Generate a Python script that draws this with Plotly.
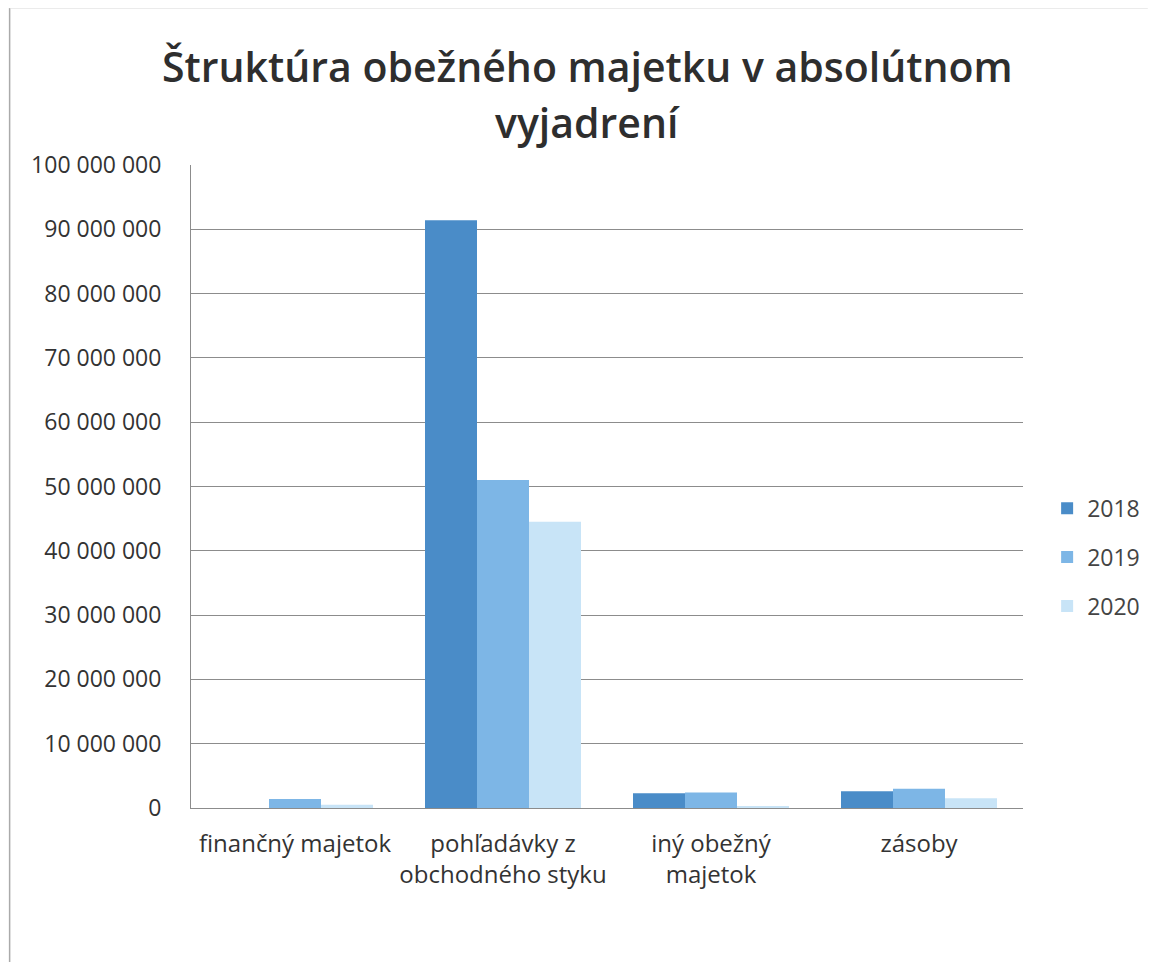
import plotly.graph_objects as go

categories = ["finančný majetok", "pohľadávky z<br>obchodného styku", "iný obežný<br>majetok", "zásoby"]
years = ["2018", "2019", "2020"]
values_2018 = [0, 91400000, 2300000, 2600000]
values_2019 = [1400000, 51000000, 2400000, 3000000]
values_2020 = [500000, 44500000, 300000, 1500000]
colors = ["#4a8cc8", "#7db6e6", "#c8e4f7"]
tick_vals = list(range(0, 100000001, 10000000))
title_lines = ["Štruktúra obežného majetku v absolútnom", "vyjadrení"]

fig = go.Figure()
for name, vals, col in zip(years, [values_2018, values_2019, values_2020], colors):
    fig.add_trace(go.Bar(x=categories, y=vals, name=name, legendgroup=name,
                         marker=dict(color=col, line=dict(width=0))))

title_font = dict(family="Open Sans", size=41, color="#2e2e2e", weight=600)
fig.update_layout(
    width=1157, height=962,
    paper_bgcolor="white", plot_bgcolor="white",
    margin=dict(l=183, r=142, t=157, b=162),
    barmode="group", bargap=0.25, bargroupgap=0,
    separators=", ",
    font=dict(family="Open Sans", size=23, color="#333333"),
    legend=dict(x=1.029, y=0.39, xanchor="left", yanchor="middle", font=dict(size=23, color="#444444"),
                itemsizing="constant", tracegroupgap=16),
    annotations=[
        dict(text=title_lines[0], xref="paper", yref="paper", x=0.476, y=1.154, xanchor="center",
             yanchor="middle", showarrow=False, font=title_font),
        dict(text=title_lines[1], xref="paper", yref="paper", x=0.476, y=1.067, xanchor="center",
             yanchor="middle", showarrow=False, font=title_font),
    ],
    shapes=[
        dict(type="line", xref="paper", yref="paper", x0=-0.218, x1=-0.218, y0=-0.25, y1=1.244,
             line=dict(color="#aaaaaa", width=1.5)),
        dict(type="line", xref="paper", yref="paper", x0=-0.218, x1=1.15, y0=1.244, y1=1.244,
             line=dict(color="#dddddd", width=1)),
    ],
)
fig.update_yaxes(range=[0, 100000000], tickvals=tick_vals, tickformat=",d", showgrid=True,
                 gridcolor="#8c8c8c", gridwidth=1, zeroline=False, showline=True, linecolor="#8c8c8c",
                 ticks="", ticklabelstandoff=24)
fig.update_xaxes(showline=True, linecolor="#8c8c8c", ticks="", tickfont=dict(size=24), ticklabelstandoff=14)

fig.write_html("out.html")
